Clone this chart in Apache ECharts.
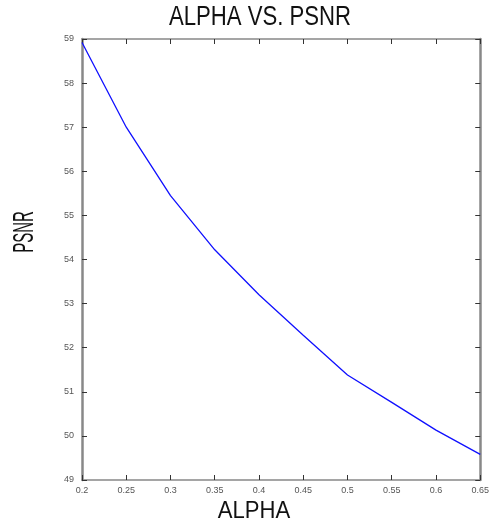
<!DOCTYPE html>
<html><head><meta charset="utf-8">
<script src="https://cdn.jsdelivr.net/npm/echarts@6/dist/echarts.min.js"></script>
<style>html,body{margin:0;padding:0;background:#fff}#c{width:492px;height:529px}</style>
</head><body><div id="c"></div>
<script>
const alpha = [0.2, 0.25, 0.3, 0.35, 0.4, 0.45, 0.5, 0.55, 0.6, 0.65];
const psnr = [58.92, 57.0, 55.45, 54.22, 53.2, 52.28, 51.38, 50.76, 50.13, 49.58];
const titleText = 'ALPHA VS. PSNR';
const xName = 'ALPHA';
const yName = 'PSNR';

const F = '"Liberation Sans",Arial,sans-serif';
const chart = echarts.init(document.getElementById('c'));
const tickLbl = {color:'#555', fontSize:9, fontFamily:F};
chart.setOption({
  animation:false,
  grid:{left:82,right:10,top:39,bottom:49,containLabel:false},
  graphic:[
    {type:'text',x:260,y:18,scaleX:0.82,silent:true,
     style:{text:titleText,font:'27px '+F,fill:'#111',align:'center',verticalAlign:'middle'}},
    {type:'text',x:254,y:511,scaleX:0.92,silent:true,
     style:{text:xName,font:'24px '+F,fill:'#111',align:'center',verticalAlign:'middle'}},
    {type:'text',x:25,y:232,rotation:Math.PI/2,scaleX:0.5,silent:true,
     style:{text:yName,font:'30px '+F,fill:'#111',align:'center',verticalAlign:'middle'}}
  ],
  xAxis:[{
    type:'value',min:0.2,max:0.65,interval:0.05,position:'bottom',
    axisLine:{lineStyle:{color:'#888',width:1.5}},
    axisTick:{inside:true,length:5,lineStyle:{color:'#333'}},
    axisLabel:Object.assign({margin:6,formatter:v=>String(+v.toFixed(2))},tickLbl),
    splitLine:{show:false}
  },{
    type:'value',min:0.2,max:0.65,interval:0.05,position:'top',
    axisLine:{lineStyle:{color:'#888',width:1.5}},
    axisTick:{inside:true,length:5,lineStyle:{color:'#333'}},
    axisLabel:{show:false},splitLine:{show:false}
  }],
  yAxis:[{
    type:'value',min:49,max:59,interval:1,position:'left',
    axisLine:{lineStyle:{color:'#888',width:2.5}},
    axisTick:{inside:true,length:5,lineStyle:{color:'#333'}},
    axisLabel:Object.assign({margin:8},tickLbl),
    splitLine:{show:false}
  },{
    type:'value',min:49,max:59,interval:1,position:'right',
    axisLine:{lineStyle:{color:'#888',width:2.5}},
    axisTick:{inside:true,length:5,lineStyle:{color:'#333'}},
    axisLabel:{show:false},splitLine:{show:false}
  }],
  series:[{
    type:'line',xAxisIndex:0,yAxisIndex:0,
    data:alpha.map((a,i)=>[a,psnr[i]]),
    showSymbol:false,smooth:false,
    lineStyle:{color:'#1010ff',width:1.3}
  }]
});
</script></body></html>
